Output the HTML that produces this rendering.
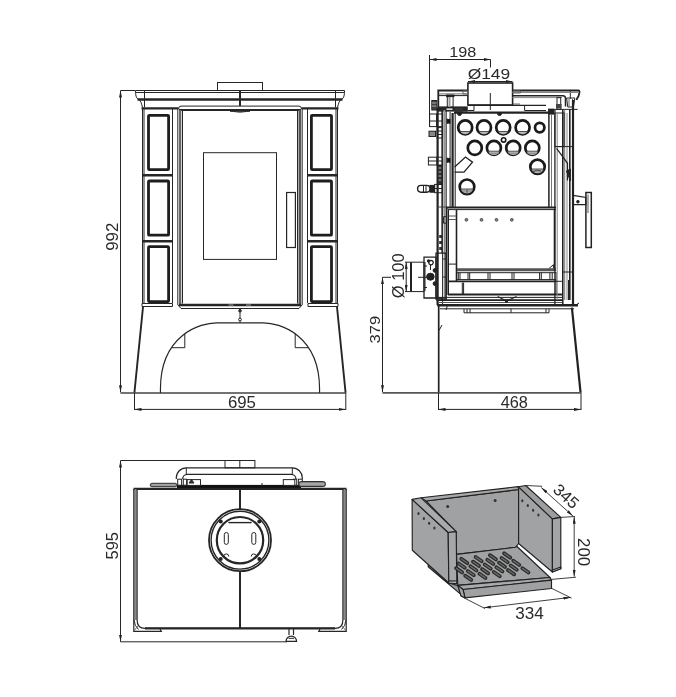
<!DOCTYPE html>
<html><head><meta charset="utf-8"><style>
html,body{margin:0;padding:0;background:#fff;}
body{width:676px;height:697px;overflow:hidden;}
svg{display:block;}
text{font-family:"Liberation Sans",sans-serif;fill:#2a2a2a;}
</style></head><body>
<svg width="676" height="697" viewBox="0 0 676 697">
<defs>
<marker id="ar" viewBox="0 0 7 3" refX="7" refY="1.5" markerWidth="7" markerHeight="3" markerUnits="userSpaceOnUse" orient="auto-start-reverse"><path d="M0,0 L7,1.5 L0,3 z" fill="#222"/></marker>
</defs>
<g id="front" fill="none" stroke="#262626" stroke-width="1">
<!-- dim 992 -->
<line x1="120.5" y1="90.5" x2="135" y2="90.5"/>
<line x1="120.5" y1="90.5" x2="120.5" y2="392.3" marker-start="url(#ar)" marker-end="url(#ar)"/>

<!-- collar -->
<rect x="217.5" y="82.5" width="45" height="8"/>
<!-- top cap -->
<path d="M135.5,90.5 H344.5"/>
<path d="M136,92.5 H344"/>
<path d="M137.5,99.6 H342.5" stroke-width="2.5"/>
<path d="M135.5,90.5 C135.5,95 136,98 138,99 C141,100 141.5,104 142.5,107.5"/>
<path d="M344.5,90.5 C344.5,95 344,98 342,99 C339,100 338.5,104 337.5,107.5"/>
<path d="M144.5,90.5 V107"/>
<path d="M335.5,90.5 V107"/>
<path d="M240,90.5 V106" stroke-width="2"/>
<path d="M141.5,108.3 H178.3 M301.7,108.3 H338.5" stroke-width="2.2"/>
<!-- cabinet sides -->
<path d="M142.5,107.5 V303 M144,107.5 V303" />
<path d="M337.5,107.5 V303 M336,107.5 V303" />
<path d="M172.5,108 V303 M307.5,108 V303"/>
<!-- tiles -->
<g stroke-width="2.8" stroke="#1e1e1e">
<rect x="148.5" y="115.3" width="20.1" height="54.3" rx="0.8"/>
<rect x="148.5" y="181" width="20.1" height="54.2" rx="0.8"/>
<rect x="148.5" y="246.6" width="20.1" height="55" rx="0.8"/>
<rect x="311.4" y="115.3" width="20.1" height="54.3" rx="0.8"/>
<rect x="311.4" y="181" width="20.1" height="54.2" rx="0.8"/>
<rect x="311.4" y="246.6" width="20.1" height="55" rx="0.8"/>
</g>
<g stroke-width="2.6">
<path d="M143,175.2 H172.5 M143,241.3 H172.5 M307.5,175.2 H337 M307.5,241.3 H337"/>
</g>
<!-- ledges -->
<path d="M142,303.5 H172.5 V306.5 H142 Z M308,303.5 H338 V306.5 H308 Z"/>
<!-- door -->
<path d="M178.5,109 Q178.5,106.1 181,106.1 H299 Q301.5,106.1 301.5,109"/>
<path d="M179,110 H301" stroke-width="2.2"/>
<path d="M177.8,108 V305 M180,110 V304 M182.5,111 V303.5"/>
<path d="M302.2,108 V305 M299.8,110 V304 M297.5,111 V303.5"/>
<path d="M299.8,110 V304" stroke="#555" stroke-width="2.6"/>
<path d="M180.2,110 V304" stroke="#666" stroke-width="2.2"/>
<path d="M179,305 H301" stroke-width="2.6"/>
<path d="M228.5,305 H233.5 M246,305 H251" stroke="#aaa" stroke-width="0.9"/>
<path d="M178,305 L181,308.5 H299 L302,305"/>
<path d="M230,111.2 Q240,113.2 250,111.2 Z" fill="#555" stroke-width="0.8"/>
<!-- glass -->
<rect x="203.5" y="152.7" width="73" height="106.7"/>
<!-- handle -->
<rect x="286.6" y="192.5" width="8.8" height="55" stroke-width="1.2"/>
<!-- base -->
<path d="M143,307 L134.4,392.9 M345.6,392.9 L337,307" stroke-width="1.9"/><path d="M120.5,392.9 H345.6" stroke="#444" stroke-width="1.5"/>
<path d="M160.5,392.9 C158.6,333.8 201.8,322.8 216.6,322.8 H263.4 C278.2,322.8 321.4,333.8 319.5,392.9" stroke-width="1.2"/>
<path d="M171.4,347.7 H184.8 V333.7 M308.6,347.7 H295.2 V333.7"/>
<path d="M240,308.5 V322.5"/>
<circle cx="240" cy="310.8" r="1.3" fill="#333"/>
<circle cx="240" cy="319.6" r="1.4" fill="#fff"/>
<!-- dim 695 -->
<line x1="134.5" y1="393" x2="134.5" y2="410"/>
<line x1="345.8" y1="393" x2="345.8" y2="410"/>
<line x1="134.5" y1="409.4" x2="345.8" y2="409.4" marker-start="url(#ar)" marker-end="url(#ar)"/>
</g>
<g id="side" fill="none" stroke="#222" stroke-width="1">
<!-- dim 198 -->
<line x1="429.5" y1="55" x2="429.5" y2="127"/>
<line x1="490.5" y1="59.5" x2="490.5" y2="67.5"/>
<line x1="429.5" y1="59.5" x2="490.5" y2="59.5" marker-start="url(#ar)" marker-end="url(#ar)"/>
<!-- dim 149 -->
<line x1="468" y1="81.5" x2="512.5" y2="81.5" marker-start="url(#ar)" marker-end="url(#ar)"/>
<!-- collar -->
<rect x="467.9" y="83" width="44.7" height="22" stroke-width="1.6" fill="#fff"/>
<path d="M490.3,93 V110"/>
<!-- top plate -->
<path d="M438.3,108.5 V90.5 H467.8 M512.4,90.5 H578.3 Q579.8,90.5 579.4,92.5 L578.6,96 L577,98.7 L576.5,100" stroke-width="1.8"/>
<path d="M570.3,90.5 V98.7"/>
<path d="M439,93.9 H467.8 M512.4,92.4 H578" stroke="#888" stroke-width="1.2"/>
<path d="M439,95.6 H467.8"/>
<path d="M512.4,95.7 H563 Q565.5,95.7 565.5,98.5 V106.4" stroke-width="1.5"/>
<path d="M512.4,97.6 H562" stroke="#888"/>
<path d="M513,91 H520.5 V93 H513 M513,104 H520" stroke="#666"/>
<path d="M463,91 H467.8 V94 H463 Z" stroke="#666"/>
<rect x="437.5" y="106.4" width="30.3" height="5.2" fill="#262626" stroke="none"/>
<rect x="446.5" y="108.4" width="6" height="1.6" fill="#ddd" stroke="none"/>
<rect x="456" y="108.2" width="4" height="1.5" fill="#bbb" stroke="none"/>
<path d="M467.8,105.3 H546" stroke-width="1.3"/>
<path d="M454,112.7 H549" stroke-width="2.2"/>
<path d="M524.6,105.3 V110.5 H546"/>
<path d="M467.8,110.5 H474 V105.3"/>
<path d="M548,109.4 H577.7"/>
<rect x="548.1" y="108.7" width="5.9" height="5.9" fill="#222" stroke="none"/>
<rect x="455" y="108" width="8" height="4" fill="#333" stroke="none"/>
<!-- bolts -->
<rect x="447.3" y="95.6" width="5.8" height="11.6"/>
<path d="M449.5,96 V107" stroke="#999" stroke-width="2"/>
<rect x="446.5" y="95" width="7.4" height="1.6" fill="#222"/>
<rect x="557" y="97.6" width="3.7" height="11.8"/>
<rect x="556" y="104" width="5.6" height="4.5" fill="#444" stroke="none"/>
<path d="M566.6,98 H574.8 L573.5,107 H567.8 Z"/>
<path d="M569,99 V107 M572.5,99 V107" stroke="#666"/>
<!-- back stud -->
<rect x="431.8" y="100.5" width="4.9" height="9.5" fill="#444"/>
<path d="M432,103 H436.5 M432,106 H436.5" stroke="#aaa"/>
<!-- back panel -->
<path d="M437.6,108 V305" stroke-width="2.2"/>
<path d="M442.6,110 V305" />
<path d="M444.6,110 V300" stroke="#888" stroke-width="1.6"/>
<path d="M446.2,110 V300" />
<!-- firebox left wall -->
<path d="M450.1,112 V207 M455.2,113 V207" />
<path d="M452.6,113 V207" stroke-width="2.2"/>
<path d="M447,119 A2,2.2 0 0 1 447,123.4 Z M447,158 A2,2.2 0 0 1 447,162.4 Z" fill="#111"/>
<path d="M450,119 A2.3,2.3 0 0 0 450,123.6 Z M450,158 A2.3,2.3 0 0 0 450,162.6 Z" fill="#111"/>
<!-- firebox right wall -->
<path d="M548.9,112 V207" stroke-width="1.5"/>
<path d="M551.5,114 V207" stroke="#777"/>
<!-- back brackets -->
<rect x="429.6" y="114" width="7" height="12.6"/>
<rect x="437.1" y="114" width="5.5" height="12.6"/>
<path d="M429.6,121 H442.6"/>
<rect x="429" y="131.2" width="6.5" height="5.3" fill="#888"/>
<rect x="437.1" y="127.6" width="5.5" height="10.4"/>
<path d="M437.1,131 H442.6 M437.1,134.5 H442.6"/>
<rect x="428.4" y="157.2" width="8.6" height="7.8"/>
<rect x="437.1" y="157.2" width="5.5" height="7.8"/>
<path d="M428.4,161 H442.6"/>
<rect x="437.6" y="165.5" width="4.8" height="19" fill="#333"/>
<path d="M438.6,168 H441.6 M438.6,172 H441.6 M438.6,176 H441.6 M438.6,180 H441.6" stroke="#bbb"/>
<rect x="417.6" y="185.4" width="12.5" height="6.8" rx="3.4" stroke-width="1.4"/>
<path d="M423.5,185.4 V192.2 M426,185.4 V192.2"/>
<rect x="430" y="185.4" width="4.6" height="6.8" fill="#222"/>
<rect x="434.6" y="184.4" width="7.7" height="8.3"/>
<path d="M434.6,188.5 H442.3"/>
<path d="M443.6,216.6 H446.6 V223.2 H443.6 Z"/>
<path d="M444.2,110 V215" stroke="#999" stroke-width="1.4"/>
<path d="M437.6,207 H446" stroke="#444"/>
<path d="M439.2,235 H442 V238 H439.2 Z M439.2,241 H442 V244 H439.2 Z M439.2,247 H442 V250 H439.2 Z" fill="#333" stroke="none"/>
<path d="M441.8,110 V253" stroke-width="0.9"/>
<!-- circles -->
<g stroke-width="2.7" stroke="#1a1a1a">
<circle cx="465.2" cy="127.4" r="7"/>
<circle cx="484" cy="127.4" r="7"/>
<circle cx="503.2" cy="127.4" r="7"/>
<circle cx="522.6" cy="127.4" r="7"/>
<circle cx="539.7" cy="127.6" r="4.7"/>
<circle cx="474.8" cy="147.9" r="7"/>
<circle cx="493.9" cy="147.9" r="7"/>
<circle cx="513.2" cy="147.9" r="7"/>
<circle cx="532.3" cy="147.9" r="7"/>
<circle cx="503.6" cy="139.9" r="2.2" stroke-width="1.6"/>
<circle cx="537.5" cy="166.8" r="7.2"/>
<circle cx="467" cy="186.8" r="7.3"/>
</g>
<g fill="#b5b5b5" stroke="none">
<path d="M460.2,131.5 A6,6 0 0 0 470.2,131.5 Z"/>
<path d="M479,131.5 A6,6 0 0 0 489,131.5 Z"/>
<path d="M498.2,131.5 A6,6 0 0 0 508.2,131.5 Z"/>
<path d="M517.6,131.5 A6,6 0 0 0 527.6,131.5 Z"/>
<path d="M488.3,151.2 A6,6 0 0 0 499.5,151.2 Z"/>
<path d="M507.6,151.2 A6,6 0 0 0 518.8,151.2 Z"/>
<path d="M526.7,151.2 A6,6 0 0 0 537.9,151.2 Z"/>
<path d="M531.6,169 A6.2,6.2 0 0 0 543.4,169 Z"/>
<path d="M461,189 A6.3,6.3 0 0 0 473,189 Z"/>
</g>
<g stroke="#444" stroke-width="0.9">
<path d="M488.8,153.3 H499 M508.1,153.3 H518.3 M527.2,153.3 H537.4 M533,171.2 H542 M462,191 H472" stroke="#777" stroke-width="0.7"/>
<path d="M460.2,131.5 H470.2 M479,131.5 H489 M498.2,131.5 H508.2 M517.6,131.5 H527.6"/>
<path d="M488.3,151.2 H499.5 M507.6,151.2 H518.8 M526.7,151.2 H537.9"/>
<path d="M531.6,169 H543.4 M461,189 H473"/>
<path d="M533,171.5 Q537,169 541,171 M467,189.5 V193"/>
</g>
<path d="M454.6,167 L465.5,157 L472.5,162.2 L464,172.1 H454.6" stroke-width="1.3"/>
<path d="M457.5,113.5 A2,2 0 0 0 461.5,113.5 Z M497.5,113.5 A2,2 0 0 0 501.5,113.5 Z" fill="#222"/>
<!-- lower chamber -->
<path d="M446,207.5 H556" stroke-width="2.2"/>
<path d="M448,209.6 H556"/>
<path d="M446.8,207 V295" stroke-width="1.6"/>
<path d="M456.5,209.6 V281.3" stroke-width="1.6"/>
<path d="M448.5,209.6 V295 M448.5,264.1 H456.5"/>
<path d="M449,216 H456 M449,219.5 H456" stroke="#555"/>
<g fill="#888" stroke="#333" stroke-width="0.8">
<circle cx="466.4" cy="219.8" r="1.4"/><circle cx="481.5" cy="219.8" r="1.4"/><circle cx="496.5" cy="219.8" r="1.4"/><circle cx="511.8" cy="219.8" r="1.4"/>
</g>
<path d="M554.5,209.6 V271" stroke-width="1.6"/>
<path d="M548.8,268.7 L553.4,264.7 V268.7" />
<path d="M457,269.8 H556" stroke-width="3" stroke="#555"/>
<path d="M457,272.7 H556"/>
<path d="M457,279.6 H556"/>
<path d="M448,281.3 H556" stroke-width="1.8"/>
<path d="M458.3,272.7 V279.6 M460,272.7 V279.6 M468,272.7 V279.6 M469.7,272.7 V279.6 M488,272.7 V279.6 M490,272.7 V279.6 M512,272.7 V279.6 M514,272.7 V279.6 M539.6,272.7 V279.6 M541.3,272.7 V279.6 M549.9,272.7 V279.6 M552.2,272.7 V279.6"/>
<path d="M462.3,282.5 V294.5 M463.6,282.5 V294.5 M556,272 V294.5 M562.5,110 V304" />
<path d="M448,294.5 H563" stroke-width="1.8"/>
<path d="M437.6,297.4 H563"/>
<path d="M438,300.2 H563" stroke-width="1.8"/>
<path d="M438,302.5 H563" stroke="#555"/>
<path d="M437.2,305.3 H578" stroke-width="2.6"/>
<path d="M440,308.8 H574"/>
<path d="M464,308.8 V312.8 H549 V308.8 M467,308.8 V312.8 M470,308.8 V312.8 M511,308.8 V312.8 M546,308.8 V312.8"/>
<path d="M497.7,296.5 L506.5,301 L516.5,296.5" stroke-width="1.2"/><path d="M504.5,300 L506.5,303 L508.5,300 Z" fill="#222"/>
<path d="M448,304 L446,310 M576,305 L579,303" />
<!-- front door / right side -->
<path d="M554.9,109.4 V305" stroke-width="1.3"/>
<path d="M557.2,114 V300" stroke="#888"/>
<path d="M562.9,109.4 V305" stroke-width="1.3"/>
<path d="M564.7,109.4 V300" stroke="#777"/>
<path d="M567,113 V300" stroke="#888"/>
<path d="M569.8,109.4 V300" stroke-width="1.6"/>
<path d="M573,100 V305" stroke-width="2.2"/>
<rect x="554.9" y="113" width="9.2" height="33.6"/>
<path d="M554.9,146.6 H572"/>
<path d="M556.6,148.4 L567.5,163.3 V180.5" stroke-width="1.2"/>
<path d="M566.4,171 L570.4,169 V181 Z" fill="#222"/>
<path d="M568.5,280 V300 M554.5,281.3 H562.5 M562.5,272 H573" />
<!-- handle -->
<path d="M573.3,195.4 L585.9,197.5 V204.6 L573.3,204.6" stroke-width="1.2"/>
<circle cx="577.9" cy="201.7" r="1.3" fill="#222"/>
<rect x="585.9" y="192.5" width="5.4" height="55" stroke-width="1.5"/>
<path d="M588,194.5 V213" stroke="#888" stroke-width="1.4"/>
<!-- flue pipe rear -->
<path d="M405,262.2 H424 V291.6 H405"/>
<path d="M411,262.2 V291.6" stroke-width="2"/>
<line x1="406.2" y1="262.2" x2="406.2" y2="291.6" marker-start="url(#ar)" marker-end="url(#ar)"/>
<path d="M418,277.3 H430"/>
<path d="M424,257.2 H436 V298 H424 Z" stroke-width="1.3"/>
<path d="M424,287.5 H427 M424,266 H427"/>
<path d="M436,253.2 H446 V299 H436 Z" stroke-width="1.3"/>
<circle cx="431" cy="262.6" r="2.2" stroke-width="1.2"/><circle cx="428.6" cy="261" r="1.3" fill="#222"/><path d="M425,262 V291" />
<path d="M430.5,265 V270" />
<ellipse cx="430.4" cy="276.7" rx="3.8" ry="3.5" fill="#222"/>
<circle cx="435" cy="270.4" r="1.9" fill="#222"/>
<circle cx="435" cy="283.6" r="1.9" fill="#222"/>
<path d="M446,259 H443 M446,277 H443" />
<rect x="437" y="297.5" width="5" height="3" fill="#333"/>
<!-- base -->
<path d="M438.7,305 V392.9" stroke-width="1.7"/><path d="M580.6,392.9 L571.9,307.7" stroke-width="2.2"/><path d="M382.5,392.9 H580.6" stroke="#555" stroke-width="1.6"/>
<path d="M439,330.5 L442,325"/>
<!-- dims -->
<line x1="382.5" y1="277.3" x2="391" y2="277.3"/>

<line x1="382.5" y1="277.3" x2="382.5" y2="392.2" marker-start="url(#ar)" marker-end="url(#ar)"/>
<line x1="438.5" y1="393" x2="438.5" y2="410"/>
<line x1="581" y1="393" x2="581" y2="410"/>
<line x1="438.5" y1="409.4" x2="581" y2="409.4" marker-start="url(#ar)" marker-end="url(#ar)"/>
</g>
<g id="top" fill="none" stroke="#262626" stroke-width="1">
<!-- dim 595 -->
<line x1="120.5" y1="460.5" x2="255" y2="460.5"/>
<line x1="120.5" y1="641.8" x2="287" y2="641.8"/>
<line x1="120.5" y1="460.5" x2="120.5" y2="641.8" marker-start="url(#ar)" marker-end="url(#ar)"/>
<!-- collar -->
<rect x="225" y="460.5" width="29.9" height="7.3"/>
<path d="M239.8,460.5 V467.8"/>
<!-- handle -->
<rect x="177" y="484.9" width="124" height="4.8" fill="#111" stroke="none"/>
<path d="M176.3,479 V477.8 A10,10 0 0 1 186.3,467.8 H292.3 A10,10 0 0 1 302.3,477.8 V479" stroke-width="1.2"/>
<path d="M182.7,479 A4.6,4.6 0 0 1 187.3,474.4 H291.3 A4.6,4.6 0 0 1 295.9,479" stroke-width="1.2"/>
<path d="M186.3,467.8 V474.4 M292.3,467.8 V474.4"/>
<rect x="177.7" y="479.2" width="3.9" height="6" fill="#fff"/>
<rect x="183.3" y="479.2" width="3.3" height="6" fill="#fff"/>
<rect x="187.2" y="479.6" width="13.3" height="5.8" fill="#fff"/>
<path d="M189,483 L191.5,479.6 L194,483 Z" fill="#333"/>
<rect x="298.4" y="479.2" width="3.9" height="6" fill="#fff"/>
<rect x="293.4" y="479.2" width="3.3" height="6" fill="#fff"/>
<rect x="283.3" y="479.6" width="11.5" height="5.8" fill="#fff"/>
<rect x="150.3" y="483.3" width="26.5" height="3.4" rx="1.5" fill="#8a8a8a" stroke="#222" stroke-width="0.9"/><path d="M152,484.9 H175" stroke="#cfcfcf" stroke-width="0.7"/>
<rect x="298.8" y="481.6" width="26.6" height="5" rx="2" fill="#8a8a8a" stroke="#222" stroke-width="1"/><path d="M300.5,484 H324" stroke="#d0d0d0" stroke-width="0.8"/>
<path d="M262,483 V486"/>
<!-- body -->
<path d="M133.5,488.9 H346.5" stroke-width="2.2"/>
<path d="M135.5,489 V620" stroke="#888" stroke-width="2.4"/>
<path d="M344.5,489 V620" stroke="#888" stroke-width="2.4"/>
<path d="M137.1,489 V620 Q137.1,628.4 145,628.4 H335 Q342.9,628.4 342.9,620 V489" stroke-width="1.2"/>
<path d="M133.8,489 V631.3 H161.3 L160,629" stroke-width="1.2"/>
<path d="M346.2,489 V631.3 H318.8 L320,629" stroke-width="1.2"/>
<path d="M134,620 Q134.5,626 138.5,629.5 M346,620 Q345.5,626 341.5,629.5" />
<path d="M134.5,630.5 L138,625.5 M345.5,630.5 L342,625.5" stroke="#666"/>
<path d="M145,628.4 H335" stroke-width="2.2"/>
<!-- centre line -->
<path d="M240,489 V509.5 M240,571 V628" stroke-width="2"/>
<!-- ring -->
<circle cx="240" cy="540.2" r="31" stroke-width="1.8"/>
<circle cx="240" cy="540.2" r="28.9" stroke-width="1.4"/>
<circle cx="240" cy="540.2" r="23.2" stroke-width="2.2"/>
<path d="M228.4,522.6 H251.6" stroke-width="1.4"/>
<rect x="224.3" y="532.5" width="4" height="11.9" rx="2"/>
<rect x="251.8" y="532.5" width="4" height="11.9" rx="2"/>
<path d="M223.6,556.5 A2.6,2.6 0 0 1 228.8,556.5 M251.2,556.5 A2.6,2.6 0 0 1 256.4,556.5"/>
<g fill="#222" stroke="none">
<circle cx="220.7" cy="521.5" r="2"/><circle cx="259.3" cy="521.5" r="2"/><circle cx="220.7" cy="559" r="2"/><circle cx="259.3" cy="559" r="2"/>
</g>
<!-- knob -->
<path d="M289,628.6 V635 M293.5,628.6 V635" stroke-width="1.2"/>
<path d="M286,641.4 A5.3,5.3 0 0 1 296.6,641.4 Z" stroke-width="1.3"/>
<path d="M288.5,638.3 H294" />
</g>
<g id="ashpan" stroke="#222" stroke-width="1.15" stroke-linejoin="round">
<!-- base plate under left wall -->
<path d="M428.2,564.4 L448.8,583 L458,585.6 L461,595.8 L465,597.9 L428.2,566.8 Z" fill="#9a9b9d"/>
<!-- back wall face -->
<path d="M426,501 L518.6,489.5 L518.6,543.5 L515.5,547.3 L456.5,554.4 L456.2,531.6 Z" fill="#a0a1a3"/>
<!-- back wall top -->
<path d="M421.1,497.8 L518.3,486.6 L518.6,489.5 L426,501 Z" fill="#a8a9ab"/>
<!-- right wall inner face -->
<path d="M518.6,486.8 L552.4,518.9 L552.4,572 L518.6,543.5 Z" fill="#a1a2a4"/>
<!-- right wall top -->
<path d="M518.3,486.7 L525.7,485.5 L560.8,517.4 L552.4,518.9 Z" fill="#9d9ea0"/>
<!-- right wall end face -->
<path d="M552.4,518.9 L560.8,517.4 L560.8,568.8 L552.4,572 Z" fill="#a3a4a6"/>
<path d="M552.4,570 L560.8,567 L560.8,568.8 L552.4,572 Z" fill="#b4b5b7"/>
<!-- floor -->
<path d="M456.5,554.4 L515.5,547.3 L517,546.5 L550,577.5 L457.8,585.4 Z" fill="#a1a2a4"/>
<!-- lip -->
<path d="M457.8,585.4 L550,577.5 L551.5,580.1 L463,589.5 Z" fill="#a9aaac"/>
<path d="M463,589.5 L551.5,580.1 L551.5,588.5 L465,597.9 Z" fill="#a0a1a3"/>
<path d="M457.8,585.4 L463,589.5 L465,597.9 L461,595.8 Z" fill="#a6a7a9"/>
<!-- left wall outer face -->
<path d="M412.1,499.4 L448.2,532.5 L448.8,583 L412.3,550.3 Z" fill="#a2a3a5"/>
<!-- left wall top -->
<path d="M412.1,499.4 L421.1,497.8 L456.2,531.6 L448.2,532.5 Z" fill="#a9aaac"/>
<!-- left wall end face -->
<path d="M448.2,532.5 L456.2,531.6 L456.8,583.7 L448.8,583 Z" fill="#a6a7a9"/>
<path d="M448.6,580.8 L456.8,581 L456.8,583.7 L448.8,583 Z" fill="#b6b7b9"/>
</g>
<g fill="#333">
<ellipse cx="418.5" cy="513.6" rx="1.1" ry="1.5"/><ellipse cx="423.9" cy="518.5" rx="1.1" ry="1.5"/><ellipse cx="429.1" cy="523.2" rx="1.1" ry="1.5"/><ellipse cx="434.4" cy="527.9" rx="1.1" ry="1.5"/>
<ellipse cx="522.3" cy="500.8" rx="1.1" ry="1.5"/><ellipse cx="527.8" cy="505.6" rx="1.1" ry="1.5"/><ellipse cx="533.1" cy="510.2" rx="1.1" ry="1.5"/><ellipse cx="538.4" cy="515" rx="1.1" ry="1.5"/>
<circle cx="447.7" cy="506.4" r="1.5"/><circle cx="495.1" cy="500.6" r="1.5"/>
</g>
<g id="slots" stroke="none">
<g transform="translate(464.3,561.0) rotate(35)"><rect x="-5.6" y="-1.9" width="11.2" height="3.8" rx="1.9" fill="#2a2a2a"/><rect x="-4.2" y="-0.7" width="8.4" height="1.4" rx="0.7" fill="#6a6a6a"/></g>
<g transform="translate(461.7,565.6) rotate(35)"><rect x="-5.6" y="-1.9" width="11.2" height="3.8" rx="1.9" fill="#2a2a2a"/><rect x="-4.2" y="-0.7" width="8.4" height="1.4" rx="0.7" fill="#6a6a6a"/></g>
<g transform="translate(459.1,570.3) rotate(35)"><rect x="-5.6" y="-1.9" width="11.2" height="3.8" rx="1.9" fill="#2a2a2a"/><rect x="-4.2" y="-0.7" width="8.4" height="1.4" rx="0.7" fill="#6a6a6a"/></g>
<g transform="translate(478.6,559.1) rotate(35)"><rect x="-5.6" y="-1.9" width="11.2" height="3.8" rx="1.9" fill="#2a2a2a"/><rect x="-4.2" y="-0.7" width="8.4" height="1.4" rx="0.7" fill="#6a6a6a"/></g>
<g transform="translate(476.0,563.8) rotate(35)"><rect x="-5.6" y="-1.9" width="11.2" height="3.8" rx="1.9" fill="#2a2a2a"/><rect x="-4.2" y="-0.7" width="8.4" height="1.4" rx="0.7" fill="#6a6a6a"/></g>
<g transform="translate(473.4,568.4) rotate(35)"><rect x="-5.6" y="-1.9" width="11.2" height="3.8" rx="1.9" fill="#2a2a2a"/><rect x="-4.2" y="-0.7" width="8.4" height="1.4" rx="0.7" fill="#6a6a6a"/></g>
<g transform="translate(470.8,573.1) rotate(35)"><rect x="-5.6" y="-1.9" width="11.2" height="3.8" rx="1.9" fill="#2a2a2a"/><rect x="-4.2" y="-0.7" width="8.4" height="1.4" rx="0.7" fill="#6a6a6a"/></g>
<g transform="translate(468.2,577.8) rotate(35)"><rect x="-5.6" y="-1.9" width="11.2" height="3.8" rx="1.9" fill="#2a2a2a"/><rect x="-4.2" y="-0.7" width="8.4" height="1.4" rx="0.7" fill="#6a6a6a"/></g>
<g transform="translate(492.9,557.3) rotate(35)"><rect x="-5.6" y="-1.9" width="11.2" height="3.8" rx="1.9" fill="#2a2a2a"/><rect x="-4.2" y="-0.7" width="8.4" height="1.4" rx="0.7" fill="#6a6a6a"/></g>
<g transform="translate(490.3,561.9) rotate(35)"><rect x="-5.6" y="-1.9" width="11.2" height="3.8" rx="1.9" fill="#2a2a2a"/><rect x="-4.2" y="-0.7" width="8.4" height="1.4" rx="0.7" fill="#6a6a6a"/></g>
<g transform="translate(487.7,566.6) rotate(35)"><rect x="-5.6" y="-1.9" width="11.2" height="3.8" rx="1.9" fill="#2a2a2a"/><rect x="-4.2" y="-0.7" width="8.4" height="1.4" rx="0.7" fill="#6a6a6a"/></g>
<g transform="translate(485.1,571.2) rotate(35)"><rect x="-5.6" y="-1.9" width="11.2" height="3.8" rx="1.9" fill="#2a2a2a"/><rect x="-4.2" y="-0.7" width="8.4" height="1.4" rx="0.7" fill="#6a6a6a"/></g>
<g transform="translate(482.5,575.9) rotate(35)"><rect x="-5.6" y="-1.9" width="11.2" height="3.8" rx="1.9" fill="#2a2a2a"/><rect x="-4.2" y="-0.7" width="8.4" height="1.4" rx="0.7" fill="#6a6a6a"/></g>
<g transform="translate(507.2,555.5) rotate(35)"><rect x="-5.6" y="-1.9" width="11.2" height="3.8" rx="1.9" fill="#2a2a2a"/><rect x="-4.2" y="-0.7" width="8.4" height="1.4" rx="0.7" fill="#6a6a6a"/></g>
<g transform="translate(504.6,560.1) rotate(35)"><rect x="-5.6" y="-1.9" width="11.2" height="3.8" rx="1.9" fill="#2a2a2a"/><rect x="-4.2" y="-0.7" width="8.4" height="1.4" rx="0.7" fill="#6a6a6a"/></g>
<g transform="translate(502.0,564.8) rotate(35)"><rect x="-5.6" y="-1.9" width="11.2" height="3.8" rx="1.9" fill="#2a2a2a"/><rect x="-4.2" y="-0.7" width="8.4" height="1.4" rx="0.7" fill="#6a6a6a"/></g>
<g transform="translate(499.4,569.4) rotate(35)"><rect x="-5.6" y="-1.9" width="11.2" height="3.8" rx="1.9" fill="#2a2a2a"/><rect x="-4.2" y="-0.7" width="8.4" height="1.4" rx="0.7" fill="#6a6a6a"/></g>
<g transform="translate(496.8,574.1) rotate(35)"><rect x="-5.6" y="-1.9" width="11.2" height="3.8" rx="1.9" fill="#2a2a2a"/><rect x="-4.2" y="-0.7" width="8.4" height="1.4" rx="0.7" fill="#6a6a6a"/></g>
<g transform="translate(516.3,562.9) rotate(35)"><rect x="-5.6" y="-1.9" width="11.2" height="3.8" rx="1.9" fill="#2a2a2a"/><rect x="-4.2" y="-0.7" width="8.4" height="1.4" rx="0.7" fill="#6a6a6a"/></g>
<g transform="translate(513.7,567.6) rotate(35)"><rect x="-5.6" y="-1.9" width="11.2" height="3.8" rx="1.9" fill="#2a2a2a"/><rect x="-4.2" y="-0.7" width="8.4" height="1.4" rx="0.7" fill="#6a6a6a"/></g>
<g transform="translate(511.1,572.2) rotate(35)"><rect x="-5.6" y="-1.9" width="11.2" height="3.8" rx="1.9" fill="#2a2a2a"/><rect x="-4.2" y="-0.7" width="8.4" height="1.4" rx="0.7" fill="#6a6a6a"/></g>
<g transform="translate(525.4,570.4) rotate(35)"><rect x="-5.6" y="-1.9" width="11.2" height="3.8" rx="1.9" fill="#2a2a2a"/><rect x="-4.2" y="-0.7" width="8.4" height="1.4" rx="0.7" fill="#6a6a6a"/></g>
</g>
<g fill="none" stroke="#2a2a2a" stroke-width="0.9">
<line x1="525.7" y1="485.5" x2="542.2" y2="486.3"/>
<line x1="560.8" y1="517.4" x2="575" y2="516.5"/>
<line x1="541.3" y1="487.6" x2="572.9" y2="516" marker-start="url(#ar)" marker-end="url(#ar)"/>
<line x1="574.2" y1="516.8" x2="574.2" y2="576.6" marker-start="url(#ar)" marker-end="url(#ar)"/>
<line x1="551.6" y1="579.4" x2="576" y2="577.2"/>
<line x1="465.4" y1="598.6" x2="485" y2="608.5"/>
<line x1="551.6" y1="588.3" x2="571.6" y2="598.2"/>
<line x1="483.8" y1="607.8" x2="570.4" y2="597.4" marker-start="url(#ar)" marker-end="url(#ar)"/>
</g>
<g font-size="16" text-anchor="middle" style="will-change:transform">
<text x="241.9" y="407.6" lengthAdjust="spacingAndGlyphs" textLength="28">695</text>
<text transform="translate(118.3,236.7) rotate(-90)" lengthAdjust="spacingAndGlyphs" textLength="28.2">992</text>
<text x="514.3" y="407.8" lengthAdjust="spacingAndGlyphs" textLength="27.2">468</text>
<text transform="translate(380.2,329.6) rotate(-90)" font-size="15.5" lengthAdjust="spacingAndGlyphs" textLength="27.6">379</text>
<text transform="translate(403.9,275.8) rotate(-90)" lengthAdjust="spacingAndGlyphs" textLength="45">Ø 100</text>
<text x="462.7" y="56.7" font-size="15.5" lengthAdjust="spacingAndGlyphs" textLength="27">198</text>
<text x="488.9" y="78.9" font-size="15.5" lengthAdjust="spacingAndGlyphs" textLength="42.5">Ø149</text>
<text transform="translate(118.2,545.8) rotate(-90)" lengthAdjust="spacingAndGlyphs" textLength="27.4">595</text>
<text x="529.4" y="618.9" font-size="16.4" lengthAdjust="spacingAndGlyphs" textLength="28.5">334</text>
<text transform="translate(578.2,552.1) rotate(90)" lengthAdjust="spacingAndGlyphs" textLength="28">200</text>
<text transform="translate(562.5,500.4) rotate(41.9)" lengthAdjust="spacingAndGlyphs" textLength="28">345</text>
</g>
</svg>
</body></html>
